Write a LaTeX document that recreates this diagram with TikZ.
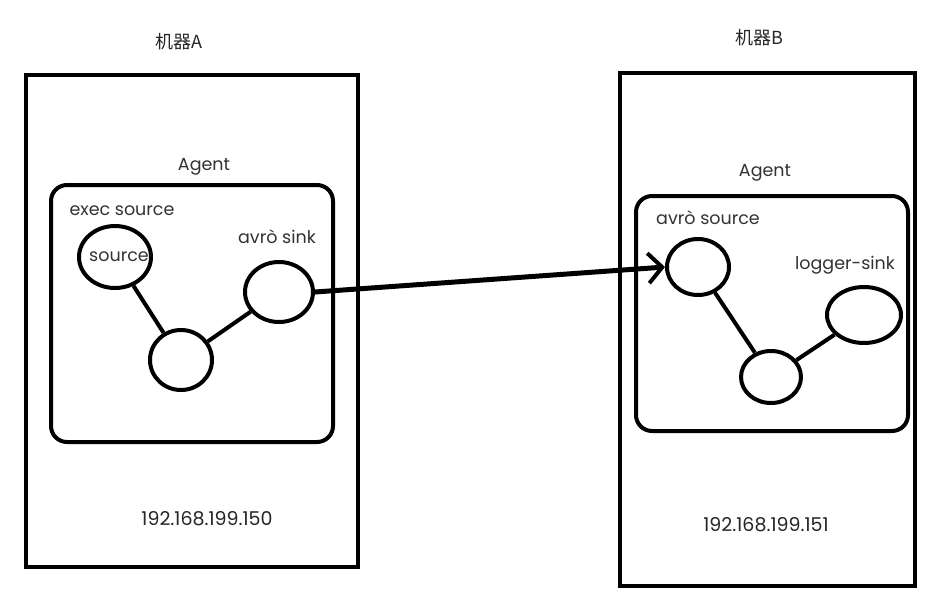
\documentclass[tikz,border=0pt]{standalone}
\usepackage{fontspec}
\setmainfont{Poppins}
\newfontfamily\cjk{Noto Sans CJK SC}
\usetikzlibrary{shapes.geometric,arrows.meta}
\begin{document}
\begin{tikzpicture}[x=1pt,y=-1pt,
  machine/.style={draw,line width=4pt},
  agentbox/.style={draw,line width=4pt,rounded corners=16pt},
  comp/.style={draw,ellipse,line width=4pt,inner sep=0pt},
  link/.style={line width=4pt},
  lbl/.style={font=\fontsize{17.5}{20}\selectfont,text=black!80},
  iplbl/.style={font=\fontsize{19}{22}\selectfont,text=black!85},
  title/.style={font=\cjk\fontsize{18}{21}\selectfont,text=black!85}]
\useasboundingbox[fill=white] (0,0) rectangle (945,603);
% machine A
\draw[machine] (26,75) rectangle (358,567);
\node[title] (tA) at (179,42) {机器A};
\node[lbl] (agA) at (204,167) {Agent};
\draw[agentbox] (51,185) rectangle (333,442);
\node[lbl,anchor=west] (exA) at (66,211) {exec source};
\node[comp,minimum width=72pt,minimum height=62pt,label={[lbl,xshift=4pt]center:source}] (srcA) at (115,257) {};
\node[lbl] (snkL) at (277,237) {avrò sink};
\node[comp,minimum width=68pt,minimum height=60pt] (snkA) at (279,292) {};
\node[comp,minimum width=62pt,minimum height=60pt] (chA) at (181,360) {};
\draw[link] (srcA) -- (chA);
\draw[link] (snkA) -- (chA);
\node[iplbl] (ipA) at (207,519) {192.168.199.150};
% machine B
\draw[machine] (620,73) rectangle (915,586);
\node[title] (tB) at (759,38) {机器B};
\node[lbl] (agB) at (765,173) {Agent};
\draw[agentbox] (636,196) rectangle (908,431);
\node[lbl] (srcL) at (708,218) {avrò source};
\node[comp,minimum width=62pt,minimum height=56pt] (srcB) at (698,267) {};
\node[lbl] (lgL) at (845,265) {logger-sink};
\node[comp,minimum width=74pt,minimum height=56pt] (lgB) at (864,315) {};
\node[comp,minimum width=60pt,minimum height=52pt] (chB) at (771,377) {};
\draw[link] (srcB) -- (chB);
\draw[link] (chB) -- (lgB);
\node[iplbl] (ipB) at (766,525) {192.168.199.151};
% arrow
\draw[line width=5pt,-{Straight Barb[length=14pt,width=30pt,line width=4pt]}] (snkA.east) -- (srcB.west);
\end{tikzpicture}
\end{document}
